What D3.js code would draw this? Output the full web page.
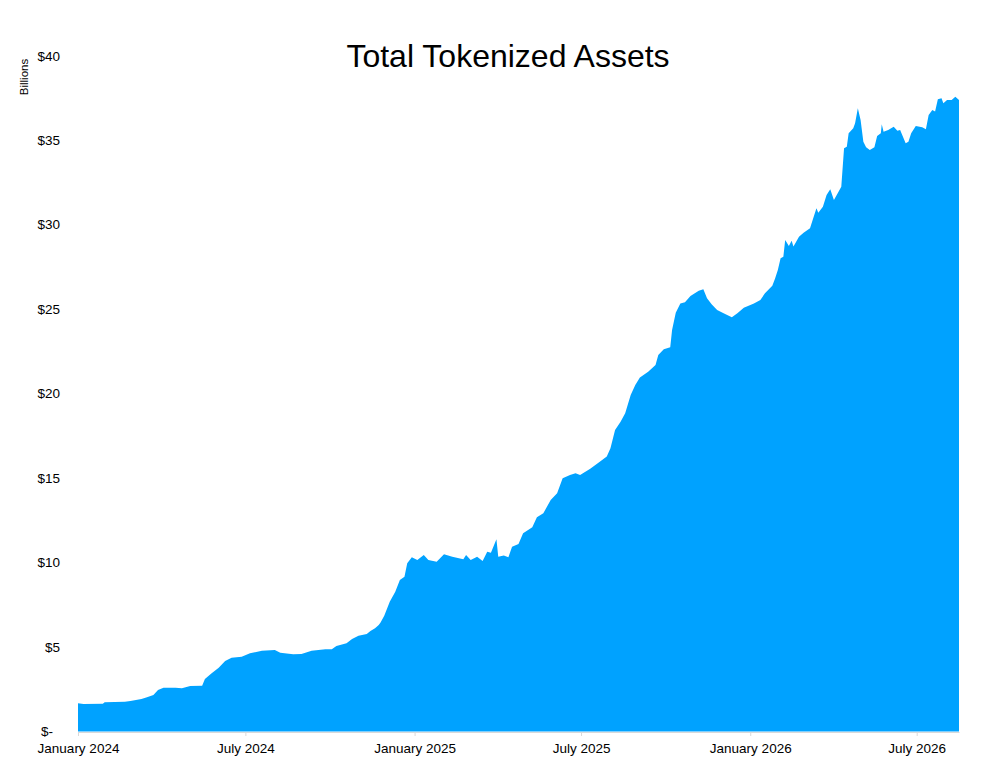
<!DOCTYPE html>
<html>
<head>
<meta charset="utf-8">
<script src="https://cdn.jsdelivr.net/npm/d3@7"></script>
<style>
  body { margin: 0; background: #fff; }
  svg { display: block; font-family: "Liberation Sans", Arial, Helvetica, sans-serif; }
</style>
</head>
<body>
<svg id="chart" width="985" height="778"></svg>
<script>
/*********************** DATA ********************************/
// daily totals, in billions of dollars
let dates = [
  "2024-01-01", "2024-01-07", "2024-01-28", "2024-01-30", "2024-02-21", "2024-02-27",
  "2024-03-10", "2024-03-16", "2024-03-23", "2024-03-28", "2024-04-03", "2024-04-16",
  "2024-04-23", "2024-05-02", "2024-05-15", "2024-05-18", "2024-05-25", "2024-06-02",
  "2024-06-09", "2024-06-16", "2024-06-27", "2024-07-06", "2024-07-19", "2024-08-02",
  "2024-08-08", "2024-08-22", "2024-08-31", "2024-09-11", "2024-09-26", "2024-10-03",
  "2024-10-08", "2024-10-19", "2024-10-25", "2024-11-01", "2024-11-10", "2024-11-14",
  "2024-11-19", "2024-11-23", "2024-11-25", "2024-11-29", "2024-12-05", "2024-12-11",
  "2024-12-16", "2024-12-21", "2024-12-24", "2024-12-29", "2025-01-04", "2025-01-11",
  "2025-01-16", "2025-01-25", "2025-02-02", "2025-02-11", "2025-02-23", "2025-02-26",
  "2025-03-03", "2025-03-10", "2025-03-16", "2025-03-21", "2025-03-25", "2025-03-31",
  "2025-04-02", "2025-04-08", "2025-04-13", "2025-04-17", "2025-04-24", "2025-04-29",
  "2025-05-09", "2025-05-14", "2025-05-21", "2025-05-29", "2025-06-05", "2025-06-11",
  "2025-06-19", "2025-06-25", "2025-06-30", "2025-07-11", "2025-07-21", "2025-07-29",
  "2025-08-02", "2025-08-07", "2025-08-13", "2025-08-18", "2025-08-24", "2025-08-29",
  "2025-09-03", "2025-09-12", "2025-09-20", "2025-09-23", "2025-09-29", "2025-10-06",
  "2025-10-08", "2025-10-12", "2025-10-17", "2025-10-22", "2025-10-28", "2025-11-06",
  "2025-11-11", "2025-11-15", "2025-11-20", "2025-11-26", "2025-12-03", "2025-12-12",
  "2025-12-18", "2025-12-25", "2026-01-05", "2026-01-12", "2026-01-17", "2026-01-25",
  "2026-01-28", "2026-01-31", "2026-02-03", "2026-02-06", "2026-02-08", "2026-02-12",
  "2026-02-15", "2026-02-17", "2026-02-23", "2026-02-28", "2026-03-07", "2026-03-11",
  "2026-03-14", "2026-03-16", "2026-03-21", "2026-03-25", "2026-03-29", "2026-04-02",
  "2026-04-07", "2026-04-10", "2026-04-13", "2026-04-16", "2026-04-18", "2026-04-23",
  "2026-04-25", "2026-04-28", "2026-05-01", "2026-05-04", "2026-05-07", "2026-05-11",
  "2026-05-16", "2026-05-19", "2026-05-23", "2026-05-24", "2026-05-26", "2026-05-31",
  "2026-06-06", "2026-06-10", "2026-06-13", "2026-06-19", "2026-06-22", "2026-06-25",
  "2026-06-30", "2026-07-07", "2026-07-11", "2026-07-14", "2026-07-18", "2026-07-21",
  "2026-07-24", "2026-07-28", "2026-07-30", "2026-08-03", "2026-08-08", "2026-08-12",
  "2026-08-16"
];
let totals = [
  1.67, 1.63, 1.64, 1.73, 1.76, 1.80,
  1.92, 2.02, 2.16, 2.46, 2.59, 2.59,
  2.56, 2.69, 2.71, 3.11, 3.44, 3.78,
  4.17, 4.37, 4.43, 4.63, 4.78, 4.82,
  4.66, 4.57, 4.59, 4.78, 4.87, 4.87,
  5.06, 5.22, 5.47, 5.67, 5.77, 5.95,
  6.11, 6.30, 6.45, 6.85, 7.68, 8.27,
  8.97, 9.16, 9.96, 10.31, 10.15, 10.45,
  10.15, 10.05, 10.49, 10.35, 10.19, 10.45,
  10.15, 10.35, 10.09, 10.64, 10.58, 11.38,
  10.35, 10.41, 10.31, 10.94, 11.10, 11.73,
  12.09, 12.68, 12.92, 13.70, 14.10, 14.99,
  15.18, 15.28, 15.18, 15.55, 15.95, 16.27,
  16.76, 17.85, 18.34, 18.83, 19.92, 20.51,
  20.96, 21.30, 21.69, 22.28, 22.62, 22.74,
  23.76, 24.79, 25.34, 25.40, 25.78, 26.09,
  26.17, 25.64, 25.29, 24.95, 24.75, 24.52,
  24.75, 25.08, 25.34, 25.54, 25.94, 26.39,
  26.82, 27.32, 28.01, 28.10, 29.09, 28.74,
  29.05, 28.70, 29.29, 29.52, 29.78, 30.47,
  30.97, 30.71, 31.06, 31.76, 32.09, 31.46,
  31.95, 32.25, 34.52, 34.61, 35.41, 35.70,
  36.00, 36.89, 36.19, 34.91, 34.58, 34.42,
  34.58, 35.25, 35.41, 35.94, 35.50, 35.60,
  35.80, 35.56, 35.60, 34.82, 34.91, 35.41,
  35.84, 35.76, 35.64, 36.49, 36.79, 36.69,
  37.42, 37.48, 37.18, 37.38, 37.38, 37.57,
  37.38
];
let yTicks = [0, 5, 10, 15, 20, 25, 30, 35, 40];
let xTicks = ["2024-01-01", "2024-07-01", "2025-01-01", "2025-07-01", "2026-01-01", "2026-07-01"];

/*********************** SETUP ********************************/
let parseDate = d3.timeParse('%Y-%m-%d');
let series = dates.map((d, i) => ({ date: parseDate(d), value: totals[i] }));

let svg = d3.select('#chart');
let width = +svg.attr('width');
let height = +svg.attr('height');
let margin = { top: 55.7, right: 26, bottom: 46.5, left: 78 };

let x = d3.scaleTime()
    .domain([parseDate(dates[0]), parseDate(dates[dates.length - 1])])
    .range([margin.left, width - margin.right]);

let y = d3.scaleLinear()
    .domain([0, 40])
    .range([height - margin.bottom, margin.top]);

/*********************** AREA ********************************/
let area = d3.area()
    .x(d => x(d.date))
    .y0(y(0))
    .y1(d => y(d.value));

svg.append('path')
    .datum(series)
    .attr('fill', '#00a2ff')
    .attr('d', area);

/*********************** AXES ********************************/
let xAxis = svg.append('g')
    .attr('transform', `translate(0,${y(0) + 0.5})`)
    .call(d3.axisBottom(x)
        .tickValues(xTicks.map(parseDate))
        .tickFormat(d3.timeFormat('%B %Y'))
        .tickSize(4)
        .tickSizeOuter(0));
xAxis.select('.domain').attr('stroke', '#d9d9d9');
xAxis.selectAll('.tick line').attr('stroke', '#d9d9d9');
xAxis.selectAll('.tick text')
    .attr('y', 11.5)
    .attr('fill', '#000')
    .style('font-size', '13.5px');

let yAxis = svg.append('g')
    .attr('transform', `translate(60,0)`)
    .call(d3.axisLeft(y)
        .tickValues(yTicks)
        .tickFormat(d => d === 0 ? '$-' : '$' + d)
        .tickSize(0)
        .tickPadding(0));
yAxis.select('.domain').remove();
yAxis.selectAll('.tick text')
    .attr('fill', '#000')
    .attr('dx', d => d === 0 ? -7 : 0)
    .style('font-size', '13.5px');

/*********************** LABELS ********************************/
svg.append('text')
    .attr('x', 508)
    .attr('y', 67)
    .attr('text-anchor', 'middle')
    .style('font-size', '32px')
    .text('Total Tokenized Assets');

svg.append('text')
    .attr('transform', 'translate(28,77) rotate(-90)')
    .attr('text-anchor', 'middle')
    .style('font-size', '11.5px')
    .text('Billions');
</script>
</body>
</html>
